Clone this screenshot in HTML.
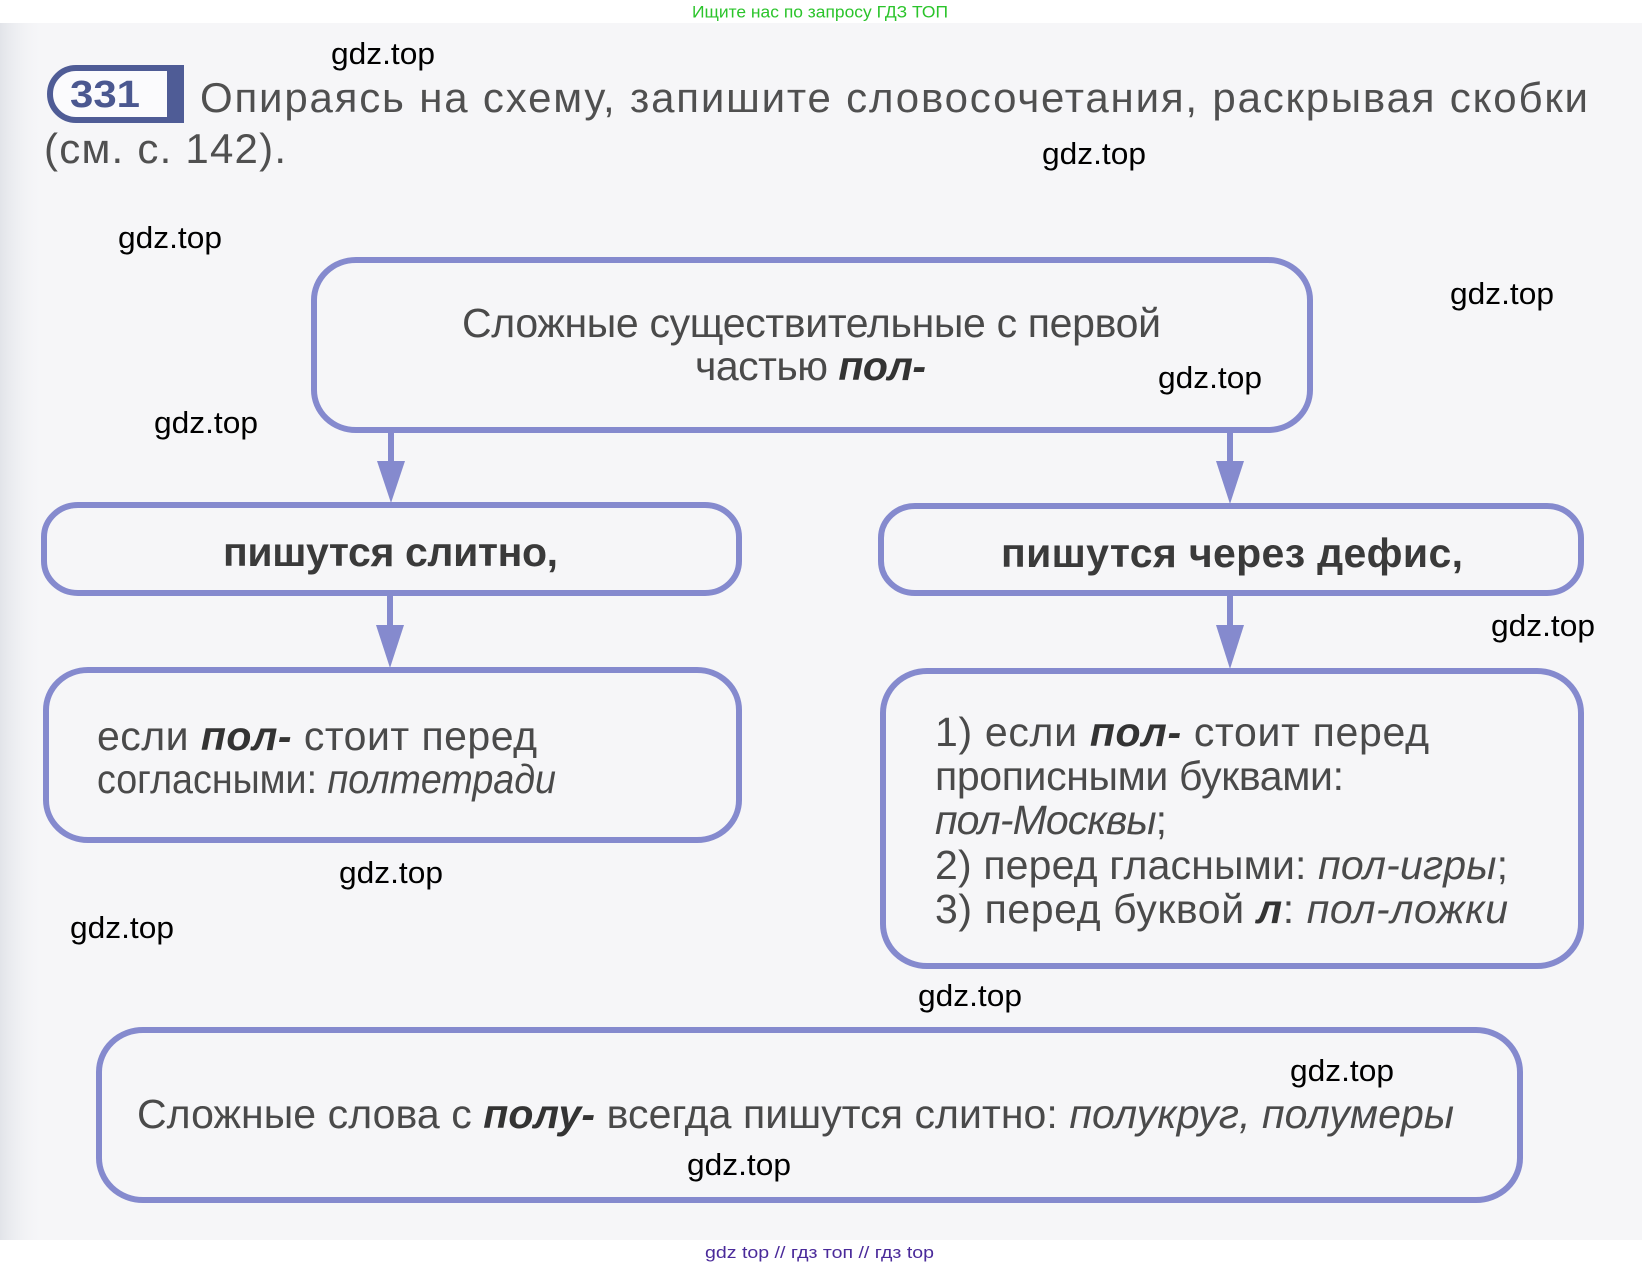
<!DOCTYPE html>
<html><head><meta charset="utf-8">
<style>
html,body{margin:0;padding:0;background:#fff;}
svg{display:block;}
text{font-family:"Liberation Sans","DejaVu Sans",sans-serif;}
</style></head>
<body>
<svg width="1642" height="1268" viewBox="0 0 1642 1268" xmlns="http://www.w3.org/2000/svg">
<defs>
<linearGradient id="lg" x1="0" y1="0" x2="1" y2="0">
<stop offset="0" stop-color="#e2e4e9"/>
<stop offset="1" stop-color="#f5f6f8" stop-opacity="0"/>
</linearGradient>
</defs>
<rect x="0" y="0" width="1642" height="1268" fill="#ffffff"/>
<rect x="0" y="23" width="1642" height="1217" fill="#f6f6f8"/>
<rect x="0" y="23" width="45" height="1217" fill="url(#lg)"/>

<!-- green header -->
<text x="692" y="17.5" font-size="17" fill="#2bc42b" textLength="256" lengthAdjust="spacingAndGlyphs">Ищите нас по запросу ГДЗ ТОП</text>

<!-- badge -->
<path d="M170 68 H76 A26 26 0 0 0 76 120 H170" fill="#fbfbfd" stroke="#4f5c96" stroke-width="6"/>
<rect x="167" y="65" width="17" height="58" fill="#4f5c96"/>
<text x="70" y="107" font-size="38" font-weight="bold" fill="#4b5890" textLength="70" lengthAdjust="spacingAndGlyphs">331</text>

<!-- title -->
<g fill="#505050" font-size="42">
<text x="200" y="112" textLength="1388" lengthAdjust="spacing">Опираясь на схему, запишите словосочетания, раскрывая скобки</text>
<text x="44" y="163" textLength="242" lengthAdjust="spacing">(см. с. 142).</text>
</g>

<!-- boxes -->
<g fill="none" stroke="#858ace" stroke-width="6">
<rect x="314" y="260" width="996" height="170" rx="42" ry="40"/>
<rect x="44" y="505" width="695" height="88" rx="34" ry="32"/>
<rect x="881" y="506" width="700" height="87" rx="34" ry="32"/>
<rect x="46" y="670" width="693" height="170" rx="42" ry="40"/>
<rect x="883" y="671" width="698" height="295" rx="44" ry="42"/>
<rect x="99" y="1030" width="1421" height="170" rx="44" ry="42"/>
</g>

<!-- arrows -->
<g stroke="#858ace" stroke-width="6">
<line x1="391" y1="432" x2="391" y2="470"/>
<line x1="1230" y1="432" x2="1230" y2="470"/>
<line x1="390" y1="594" x2="390" y2="632"/>
<line x1="1230" y1="594" x2="1230" y2="632"/>
</g>
<g fill="#858ace">
<path d="M377 461 L405 461 L391 503 Z"/>
<path d="M1216 461 L1244 461 L1230 504 Z"/>
<path d="M376 625 L404 625 L390 668 Z"/>
<path d="M1216 625 L1244 625 L1230 669 Z"/>
</g>

<!-- box text -->
<g fill="#4a4a4a" font-size="41">
<text x="462" y="337" textLength="699" lengthAdjust="spacing">Сложные существительные с первой</text>
<text x="695" y="380" textLength="231" lengthAdjust="spacing">частью <tspan font-weight="bold" font-style="italic" fill="#333">пол-</tspan></text>

<text x="223" y="566" font-weight="bold" fill="#3a3a3a" textLength="335" lengthAdjust="spacing">пишутся слитно,</text>
<text x="1001" y="567" font-weight="bold" fill="#3a3a3a" textLength="462" lengthAdjust="spacing">пишутся через дефис,</text>

<text x="97" y="750" textLength="440" lengthAdjust="spacing">если <tspan font-weight="bold" font-style="italic" fill="#333">пол-</tspan> стоит перед</text>
<text x="97" y="793" textLength="459" lengthAdjust="spacingAndGlyphs">согласными: <tspan font-style="italic">полтетради</tspan></text>

<text x="935" y="746" textLength="494" lengthAdjust="spacing">1) если <tspan font-weight="bold" font-style="italic" fill="#333">пол-</tspan> стоит перед</text>
<text x="935" y="790" textLength="409" lengthAdjust="spacing">прописными буквами:</text>
<text x="935" y="834" textLength="232" lengthAdjust="spacing"><tspan font-style="italic">пол-Москвы</tspan>;</text>
<text x="935" y="879" textLength="573" lengthAdjust="spacing">2) перед гласными: <tspan font-style="italic">пол-игры</tspan>;</text>
<text x="935" y="923" textLength="573" lengthAdjust="spacing">3) перед буквой <tspan font-weight="bold" font-style="italic" fill="#333">л</tspan>: <tspan font-style="italic">пол-ложки</tspan></text>

<text x="137" y="1128" textLength="1317" lengthAdjust="spacing">Сложные слова с <tspan font-weight="bold" font-style="italic" fill="#333">полу-</tspan> всегда пишутся слитно: <tspan font-style="italic">полукруг, полумеры</tspan></text>
</g>

<!-- watermarks -->
<g fill="#000" font-size="31">
<text x="331" y="64" textLength="104" lengthAdjust="spacingAndGlyphs">gdz.top</text>
<text x="1042" y="164" textLength="104" lengthAdjust="spacingAndGlyphs">gdz.top</text>
<text x="118" y="248" textLength="104" lengthAdjust="spacingAndGlyphs">gdz.top</text>
<text x="1450" y="304" textLength="104" lengthAdjust="spacingAndGlyphs">gdz.top</text>
<text x="1158" y="388" textLength="104" lengthAdjust="spacingAndGlyphs">gdz.top</text>
<text x="154" y="433" textLength="104" lengthAdjust="spacingAndGlyphs">gdz.top</text>
<text x="1491" y="636" textLength="104" lengthAdjust="spacingAndGlyphs">gdz.top</text>
<text x="339" y="883" textLength="104" lengthAdjust="spacingAndGlyphs">gdz.top</text>
<text x="70" y="938" textLength="104" lengthAdjust="spacingAndGlyphs">gdz.top</text>
<text x="918" y="1006" textLength="104" lengthAdjust="spacingAndGlyphs">gdz.top</text>
<text x="1290" y="1081" textLength="104" lengthAdjust="spacingAndGlyphs">gdz.top</text>
<text x="687" y="1175" textLength="104" lengthAdjust="spacingAndGlyphs">gdz.top</text>
</g>

<!-- footer -->
<text x="705" y="1258" font-size="17" fill="#4a2a9a" textLength="229" lengthAdjust="spacingAndGlyphs">gdz top  //  гдз топ  //  гдз top</text>
</svg>
</body></html>
